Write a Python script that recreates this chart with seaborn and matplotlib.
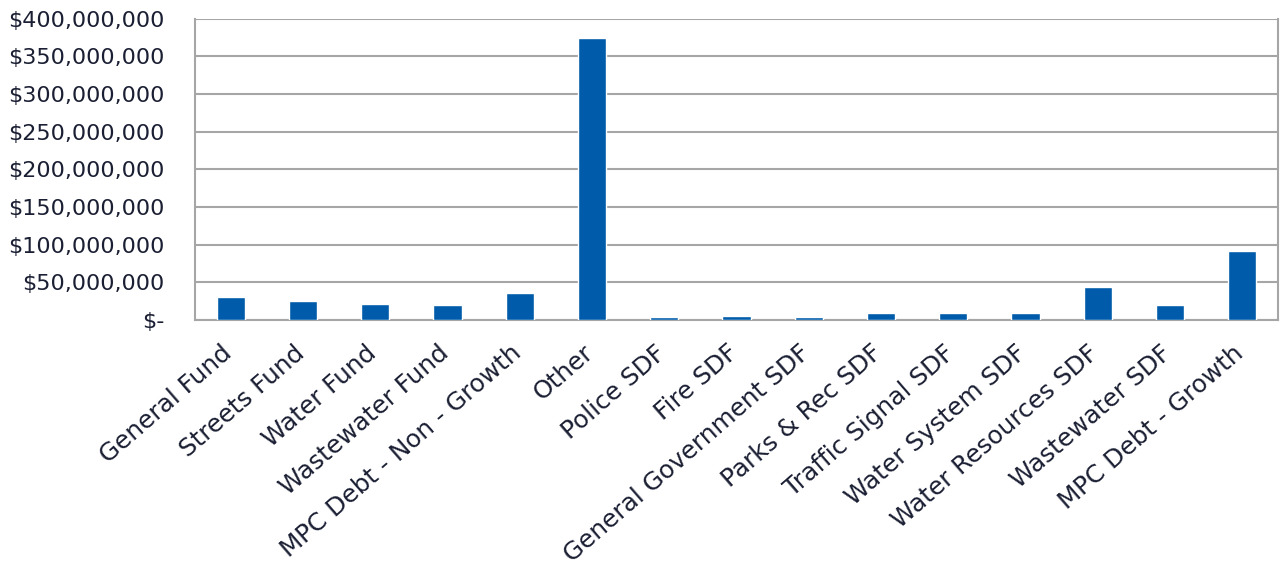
import pandas as pd
import seaborn as sns
import matplotlib.pyplot as plt
from matplotlib.ticker import FuncFormatter
from matplotlib.transforms import ScaledTranslation

categories = ['General Fund', 'Streets Fund', 'Water Fund', 'Wastewater Fund',
              'MPC Debt - Non - Growth', 'Other', 'Police SDF', 'Fire SDF',
              'General Government SDF', 'Parks & Rec SDF', 'Traffic Signal SDF',
              'Water System SDF', 'Water Resources SDF', 'Wastewater SDF',
              'MPC Debt - Growth']
amounts = [30_200_000, 24_300_000, 21_300_000, 19_300_000, 35_300_000,
           374_500_000, 3_400_000, 5_600_000, 3_400_000, 9_200_000,
           9_200_000, 9_200_000, 43_300_000, 20_000_000, 91_200_000]

df = pd.DataFrame({'fund': categories, 'amount': amounts})

sns.set_style('white')
plt.rcParams['font.family'] = ['DejaVu Sans']
text_col = '#1b1f33'
grid_col = '#a6a6a6'

fig = plt.figure(figsize=(12.81, 5.67), dpi=100)
ax = fig.add_axes([0.152, 0.436, 0.846, 0.531])

sns.barplot(data=df, x='fund', y='amount', color='#005BAA', width=0.39,
            saturation=1, ax=ax, zorder=3)

ax.set_ylim(0, 400_000_000)
ax.set_yticks(range(0, 400_000_001, 50_000_000))
ax.yaxis.set_major_formatter(FuncFormatter(
    lambda v, p: '$-' if v == 0 else f'${v:,.0f}'))
ax.set_xlim(-0.5, len(categories) - 0.5)
ax.grid(axis='y', color=grid_col, linewidth=1.5, zorder=0)
ax.set_axisbelow(True)

for s in ['left', 'bottom', 'right']:
    ax.spines[s].set_color(grid_col)
    ax.spines[s].set_linewidth(1.5)
ax.spines['top'].set_visible(False)

# ticks between categories on x
ax.set_xticks([i - 0.5 for i in range(len(categories) + 1)], minor=True)
ax.tick_params(axis='x', which='minor', length=7, width=1.5, color=grid_col, direction='out')
ax.tick_params(axis='x', which='major', length=0, pad=15)
ax.tick_params(axis='y', length=8, width=1.5, color=grid_col, direction='out', pad=14)

ax.set_xticks(range(len(categories)))
ax.set_xticklabels(categories, rotation=41, ha='right', rotation_mode='anchor',
                   fontsize=17.8, color=text_col)
# nudge labels a bit to the left
shift = ScaledTranslation(-10 / 100, 0, fig.dpi_scale_trans)
for lbl in ax.get_xticklabels():
    lbl.set_transform(lbl.get_transform() + shift)
for lbl in ax.get_yticklabels():
    lbl.set_fontsize(16)
    lbl.set_color(text_col)

ax.set_xlabel('')
ax.set_ylabel('')

plt.savefig('out.png', dpi=100)
